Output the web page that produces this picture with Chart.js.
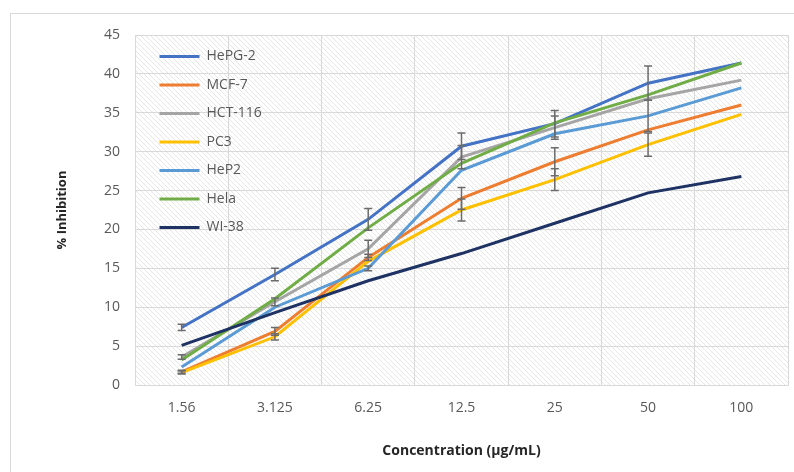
<!DOCTYPE html>
<html>
<head>
<meta charset="utf-8">
<script src="https://cdn.jsdelivr.net/npm/chart.js@4"></script>
<style>
  html, body { margin: 0; padding: 0; background: #fff; }
  #wrap { position: relative; width: 794px; height: 472px; overflow: hidden; }
  #frame { position: absolute; left: 10px; top: 13px; width: 800px; height: 480px;
           border-top: 1px solid #d9d9d9; border-left: 1px solid #d9d9d9; }
  #chart { position: absolute; left: 0; top: 0; }
</style>
</head>
<body>
<div id="wrap">
  <div id="frame"></div>
  <canvas id="chart" width="794" height="472"></canvas>
</div>
<script>
const concentrations = ['1.56', '3.125', '6.25', '12.5', '25', '50', '100'];

const hepg2 = [7.4, 14.2, 21.3, 30.7, 33.6, 38.8, 41.4];
const mcf7 = [1.7, 6.9, 16.4, 24.0, 28.7, 32.8, 36.0];
const hct116 = [3.6, 10.7, 17.5, 29.3, 33.1, 36.8, 39.2];
const pc3 = [1.6, 6.2, 15.9, 22.5, 26.4, 30.9, 34.8];
const hep2 = [2.3, 10.0, 15.0, 27.6, 32.3, 34.6, 38.2];
const hela = [3.2, 11.1, 20.2, 28.5, 33.7, 37.3, 41.4];
const wi38 = [5.1, 9.3, 13.4, 16.9, 20.8, 24.7, 26.8];

// +/- error values (0 = no bar shown)
const hepg2Err = [0.4, 0.8, 1.4, 1.7, 1.7, 2.2, 0];
const mcf7Err = [0.2, 0.5, 0.4, 1.4, 1.8, 0, 0];
const hct116Err = [0.3, 0.5, 1.1, 1.5, 1.5, 0, 0];
const pc3Err = [0.2, 0.4, 0, 1.4, 1.4, 1.5, 0];
const hep2Err = [0, 0, 0.3, 0, 0, 2.0, 0];

const yTicks = [0, 5, 10, 15, 20, 25, 30, 35, 40, 45];

const series = [
    { label: 'HePG-2', data: hepg2, err: hepg2Err, color: '#4472c4' },
    { label: 'MCF-7', data: mcf7, err: mcf7Err, color: '#ed7d31' },
    { label: 'HCT-116', data: hct116, err: hct116Err, color: '#a5a5a5' },
    { label: 'PC3', data: pc3, err: pc3Err, color: '#ffc000' },
    { label: 'HeP2', data: hep2, err: hep2Err, color: '#5b9bd5' },
    { label: 'Hela', data: hela, err: null, color: '#70ad47' },
    { label: 'WI-38', data: wi38, err: null, color: '#1f3264' }
];

const FONT = '"Open Sans", "Liberation Sans", sans-serif';

// diagonal hatch behind the plot area
const hatchPlugin = {
    id: 'hatch',
    beforeDraw(chart) {
        const { ctx, chartArea: a } = chart;
        const tile = document.createElement('canvas');
        tile.width = 5; tile.height = 5;
        const t = tile.getContext('2d');
        t.fillStyle = '#ffffff';
        t.fillRect(0, 0, 5, 5);
        t.strokeStyle = '#e6e6e6';
        t.lineWidth = 1;
        t.beginPath();
        t.moveTo(-1, -1); t.lineTo(6, 6);
        t.moveTo(-1, 4); t.lineTo(1, 6);
        t.moveTo(4, -1); t.lineTo(6, 1);
        t.stroke();
        ctx.save();
        ctx.fillStyle = ctx.createPattern(tile, 'repeat');
        ctx.fillRect(a.left, a.top, a.right - a.left, a.bottom - a.top);
        ctx.restore();
    }
};

const errorBarPlugin = {
    id: 'errorBars',
    afterDatasetsDraw(chart) {
        const { ctx } = chart;
        const y = chart.scales.y;
        ctx.save();
        ctx.strokeStyle = '#6b6b6b';
        ctx.lineWidth = 1.5;
        chart.data.datasets.forEach((ds, di) => {
            if (!ds.err) return;
            const meta = chart.getDatasetMeta(di);
            ds.err.forEach((e, i) => {
                if (!e) return;
                const x = meta.data[i].x;
                const top = y.getPixelForValue(ds.data[i] + e);
                const bot = y.getPixelForValue(ds.data[i] - e);
                ctx.beginPath();
                ctx.moveTo(x, top); ctx.lineTo(x, bot);
                ctx.moveTo(x - 4, top); ctx.lineTo(x + 4, top);
                ctx.moveTo(x - 4, bot); ctx.lineTo(x + 4, bot);
                ctx.stroke();
            });
        });
        ctx.restore();
    }
};

// put the legend box inside the plot, top-left
const legendShift = {
    id: 'legendShift',
    afterLayout(chart) {
        const lg = chart.legend;
        const h = lg.bottom - lg.top;
        lg.top = chart.chartArea.top;
        lg.bottom = lg.top + h;
        lg.left = chart.chartArea.left + 10;
    }
};

//eslint-disable-next-line
const myChart = new Chart(document.getElementById('chart'), {
    type: 'line',
    data: {
        labels: concentrations,
        datasets: series.map((s, i) => ({
            label: s.label,
            data: s.data,
            err: s.err,
            borderColor: s.color,
            backgroundColor: s.color,
            borderWidth: 3,
            pointRadius: 0,
            tension: 0,
            order: series.length - i
        }))
    },
    options: {
        responsive: false,
        animation: false,
        layout: { padding: { left: 54, top: 35, right: 6, bottom: 0 } },
        plugins: {
            tooltip: { enabled: false },
            legend: {
                position: 'chartArea',
                align: 'start',
                labels: {
                    boxWidth: 40,
                    boxHeight: 3,
                    padding: 14.5,
                    color: '#595959',
                    font: { family: FONT, size: 14 },
                    sort: (a, b) => a.datasetIndex - b.datasetIndex,
                    generateLabels(chart) {
                        const items = Chart.defaults.plugins.legend.labels.generateLabels(chart);
                        items.forEach(it => { it.lineWidth = 0; it.fillStyle = it.strokeStyle; });
                        return items;
                    }
                }
            }
        },
        scales: {
            x: {
                offset: true,
                afterFit(scale) { scale.height = 87; },
                grid: { color: '#d9d9d9', drawTicks: false, offset: true },
                border: { color: '#d9d9d9' },
                ticks: { color: '#595959', padding: 15, font: { family: FONT, size: 14 } },
                title: {
                    display: true,
                    text: 'Concentration (µg/mL)',
                    color: '#262626',
                    font: { family: FONT, size: 14, weight: 'bold' },
                    padding: { top: 0, bottom: 13 }
                }
            },
            y: {
                min: 0,
                max: 45,
                afterFit(scale) { scale.width = 81; },
                afterBuildTicks(scale) { scale.ticks = yTicks.map(v => ({ value: v })); },
                grid: { color: '#d9d9d9', drawTicks: false },
                border: { display: false },
                ticks: { color: '#595959', padding: 15, font: { family: FONT, size: 14 } },
                title: {
                    display: true,
                    text: '% Inhibition',
                    color: '#262626',
                    font: { family: FONT, size: 13, weight: 'bold' },
                    padding: { top: 0, bottom: 0 }
                }
            }
        }
    },
    plugins: [hatchPlugin, errorBarPlugin, legendShift]
});
</script>
</body>
</html>
